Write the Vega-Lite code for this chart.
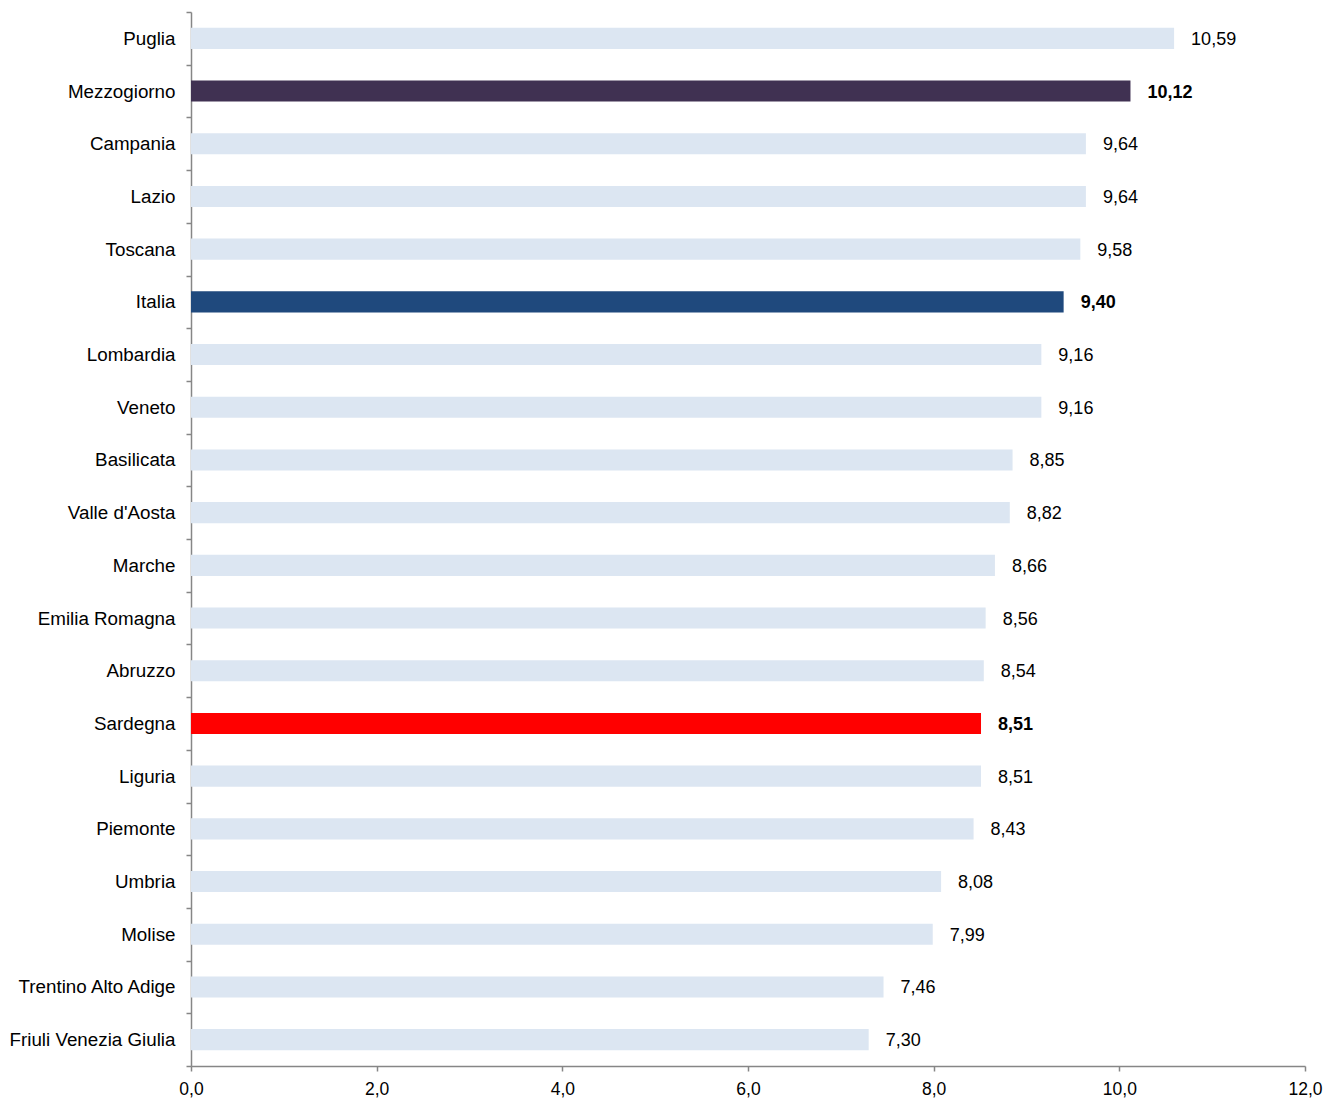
{
  "$schema": "https://vega.github.io/schema/vega-lite/v6.json",
  "width": 1114,
  "height": 1054,
  "autosize": {"type": "none"},
  "padding": {"left": 191, "top": 12, "right": 31, "bottom": 34},
  "config": {
    "locale": {"number": {"decimal": ",", "thousands": ".", "grouping": [3], "currency": ["€", ""]}},
    "view": {"stroke": null},
    "font": "Liberation Sans",
    "axis": {"labelFont": "Liberation Sans", "labelFontSize": 18, "labelColor": "#000000", "domainColor": "#868686", "tickColor": "#868686", "domainWidth": 1.5, "tickWidth": 1.5, "grid": false, "title": null}
  },
  "data": {
    "values": [
      {"regione": "Puglia", "valore": 10.59, "gruppo": "regione"},
      {"regione": "Mezzogiorno", "valore": 10.12, "gruppo": "Mezzogiorno"},
      {"regione": "Campania", "valore": 9.64, "gruppo": "regione"},
      {"regione": "Lazio", "valore": 9.64, "gruppo": "regione"},
      {"regione": "Toscana", "valore": 9.58, "gruppo": "regione"},
      {"regione": "Italia", "valore": 9.40, "gruppo": "Italia"},
      {"regione": "Lombardia", "valore": 9.16, "gruppo": "regione"},
      {"regione": "Veneto", "valore": 9.16, "gruppo": "regione"},
      {"regione": "Basilicata", "valore": 8.85, "gruppo": "regione"},
      {"regione": "Valle d'Aosta", "valore": 8.82, "gruppo": "regione"},
      {"regione": "Marche", "valore": 8.66, "gruppo": "regione"},
      {"regione": "Emilia Romagna", "valore": 8.56, "gruppo": "regione"},
      {"regione": "Abruzzo", "valore": 8.54, "gruppo": "regione"},
      {"regione": "Sardegna", "valore": 8.51, "gruppo": "Sardegna"},
      {"regione": "Liguria", "valore": 8.51, "gruppo": "regione"},
      {"regione": "Piemonte", "valore": 8.43, "gruppo": "regione"},
      {"regione": "Umbria", "valore": 8.08, "gruppo": "regione"},
      {"regione": "Molise", "valore": 7.99, "gruppo": "regione"},
      {"regione": "Trentino Alto Adige", "valore": 7.46, "gruppo": "regione"},
      {"regione": "Friuli Venezia Giulia", "valore": 7.30, "gruppo": "regione"}
    ]
  },
  "encoding": {
    "y": {
      "field": "regione",
      "type": "nominal",
      "sort": null,
      "scale": {"paddingInner": 0, "paddingOuter": 0},
      "axis": {"tickSize": 5, "labelPadding": 11, "labelFontSize": 18.8, "tickBand": "extent"}
    },
    "x": {
      "field": "valore",
      "type": "quantitative",
      "scale": {"domain": [0, 12], "nice": false},
      "axis": {"values": [0, 2, 4, 6, 8, 10, 12], "format": ".1f", "tickSize": 5, "labelPadding": 9, "labelFontSize": 17.5, "labelFlush": false}
    }
  },
  "layer": [
    {
      "mark": {"type": "bar", "height": {"band": 0.4}},
      "encoding": {
        "color": {
          "field": "gruppo",
          "type": "nominal",
          "legend": null,
          "scale": {"domain": ["regione", "Mezzogiorno", "Italia", "Sardegna"], "range": ["#DCE6F2", "#403152", "#1F497D", "#FF0000"]}
        }
      }
    },
    {
      "transform": [{"filter": "datum.gruppo === 'regione'"}],
      "mark": {"type": "text", "align": "left", "baseline": "middle", "dx": 17, "dy": 1.5, "fontSize": 18, "color": "#000000"},
      "encoding": {"text": {"field": "valore", "type": "quantitative", "format": ".2f"}}
    },
    {
      "transform": [{"filter": "datum.gruppo !== 'regione'"}],
      "mark": {"type": "text", "align": "left", "baseline": "middle", "dx": 17, "dy": 1.5, "fontSize": 18, "fontWeight": "bold", "color": "#000000"},
      "encoding": {"text": {"field": "valore", "type": "quantitative", "format": ".2f"}}
    }
  ]
}
